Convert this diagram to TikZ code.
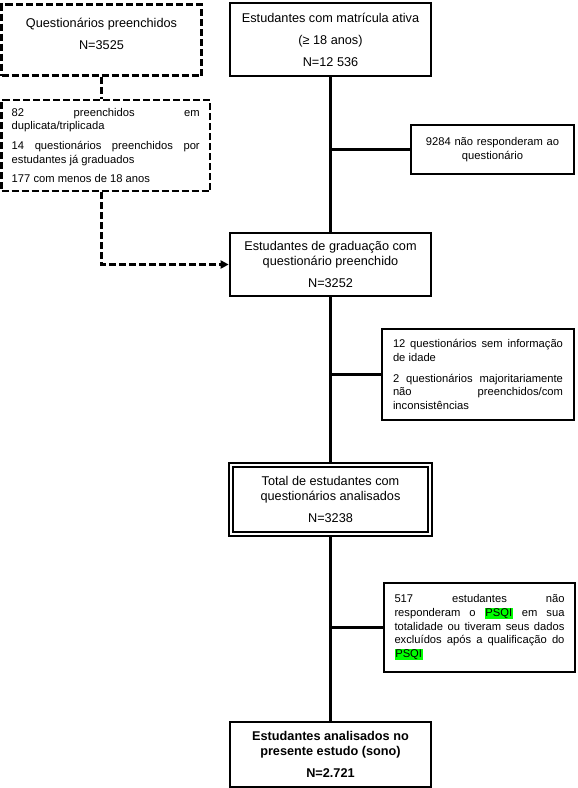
\documentclass[tikz,border=0pt]{standalone}
\usepackage{fontspec}
\setmainfont{Liberation Sans}
\usetikzlibrary{arrows.meta}
\setlength{\parindent}{0pt}
\definecolor{psqigreen}{RGB}{0,255,0}
\newcommand{\mainsize}{\fontsize{12.7}{15}\selectfont}
\newcommand{\notesize}{\fontsize{11.2}{13.6}\selectfont}
\newcommand{\marked}[1]{{\setlength{\fboxsep}{0.8pt}\colorbox{psqigreen}{#1}}}
\tikzset{
    flow diagram/.style = {>={Triangle[length=8pt, width=8pt]}},
    line/.style         = {line width=2.7pt},
    dash line/.style    = {line, dash pattern=on 7pt off 3pt},
    block/.style        = {draw, line, align=center, font=\mainsize,
                           inner sep=0pt, minimum width=201pt},
    bold block/.style   = {block, font=\mainsize\bfseries},
    total block/.style  = {block, line width=2pt, double,
                           double distance=2pt, minimum width=199pt},
    note/.style         = {draw, line, align=justify, font=\notesize,
                           inner sep=0pt, text width=170pt},
    dash note/.style    = {note, dash line, text width=188pt}
}

\begin{document}
\begin{tikzpicture}[flow diagram, x=1pt, y=-1pt]
\useasboundingbox (0,0) rectangle (578,788);

% Left branch: questionnaires filled in and removed
\node[block, dash line, minimum width=200pt, minimum height=71pt,
      text depth=12pt] (filled) at (101.5,40)
    {Questionários preenchidos\\[7pt]N=3525};
\node[dash note, minimum width=208.5pt, minimum height=91pt]
    (removed) at (105.75,145.5)
    {82 preenchidos em\linebreak duplicata/triplicada\\[6pt]
     14 questionários preenchidos por\linebreak estudantes já graduados\\[6pt]
     177 com menos de 18 anos};

% Main column
\node[block, minimum height=73pt] (active) at (330.5,39.5)
    {Estudantes com matrícula ativa\\[7pt](≥ 18 anos)\\[7pt]N=12 536};
\node[block, minimum height=63pt] (undergrad) at (330.5,264.5)
    {Estudantes de graduação com\\questionário preenchido\\[7pt]N=3252};
\node[total block, minimum height=69pt] (total) at (330.5,499.5)
    {Total de estudantes com\\questionários analisados\\[7pt]N=3238};
\node[bold block, minimum height=65pt] (sleep) at (330.5,754.5)
    {Estudantes analisados no\\presente estudo (sono)\\[7pt]N=2.721};

% Exclusions on the right
\node[note, align=center, text width=163pt, minimum width=163pt,
      minimum height=49pt] (noanswer) at (492.5,149.5)
    {9284 não responderam ao\\questionário};
\node[note, minimum width=192pt, minimum height=91pt] (noage) at (478,374.5)
    {12 questionários sem informação\linebreak de idade\\[7pt]
     2 questionários majoritariamente\linebreak não preenchidos/com\linebreak
     inconsistências};
\node[note, minimum width=191pt, minimum height=89pt] (nopsqi) at (479.5,627.5)
    {517 estudantes não\linebreak responderam o \marked{PSQI} em sua\linebreak
     totalidade ou tiveram seus dados\linebreak excluídos após a qualificação
     do\linebreak \marked{PSQI}};

% Connectors
\draw[dash line] (filled.south) -- (filled.south |- removed.north);
\draw[dash line, ->] (filled.south |- removed.south) |- (undergrad.west);
\draw[line, line width=3pt] (active) -- (undergrad);
\draw[line, line width=3pt] (undergrad) -- (total);
\draw[line, line width=3pt] (total) -- (sleep);
\draw[line] (active.south |- noanswer.west) -- (noanswer.west);
\draw[line] (undergrad.south |- noage.west) -- (noage.west);
\draw[line] (total.south |- nopsqi.west) -- (nopsqi.west);

\end{tikzpicture}
\end{document}
